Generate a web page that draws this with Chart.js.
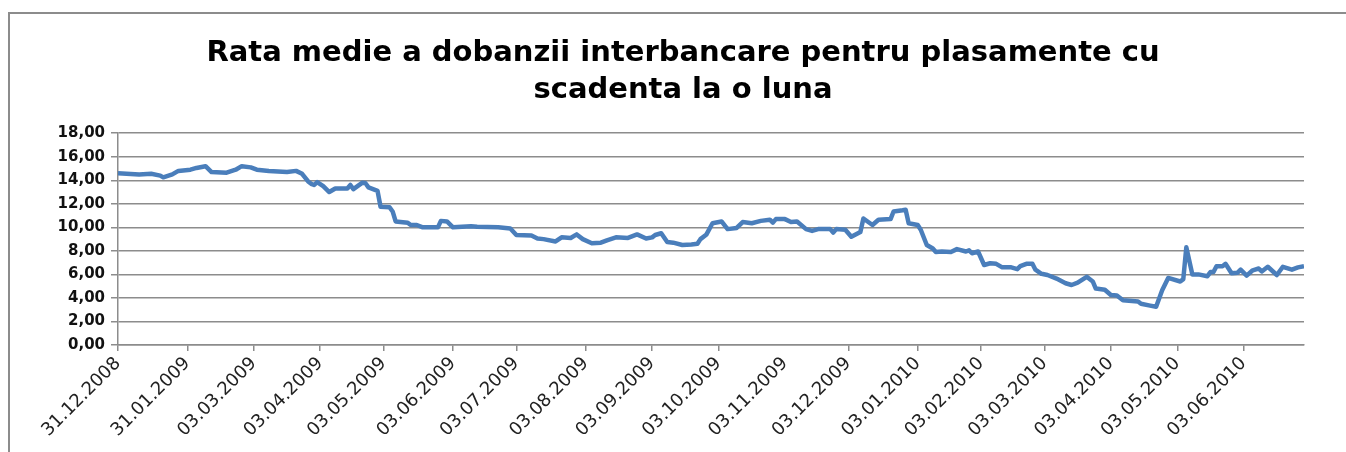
<!DOCTYPE html>
<html>
<head>
<meta charset="utf-8">
<script src="https://cdn.jsdelivr.net/npm/chart.js@4.4.1/dist/chart.umd.min.js"></script>
<style>
  html, body { margin:0; padding:0; background:#fff; overflow:hidden; }
  #frame { position:absolute; left:8px; top:12px; width:1400px; height:500px;
           border-left:2px solid #8c8c8c; border-top:2px solid #8c8c8c; }
  #wrap { position:absolute; left:0; top:0; width:1346px; height:452px; }
</style>
</head>
<body>
<div id="frame"></div>
<div id="wrap"><canvas id="chart"></canvas></div>
<script>
// trading day index (0 = 31.12.2008) and average 1-month interbank rate
const days = [
  0, 7, 11, 14, 15, 18, 20, 24, 26, 29,
  31, 36, 39, 41, 44, 46, 50, 56, 59, 61,
  63, 64, 65, 66, 68, 70, 72, 76, 77, 78,
  81, 82, 83, 86, 87, 90, 91, 92, 96, 97,
  99, 101, 106, 107, 109, 111, 117, 119, 126, 130,
  132, 137, 139, 141, 145, 147, 150, 152, 154, 157,
  160, 162, 165, 169, 172, 175, 177, 178, 180, 182,
  184, 187, 190, 192, 193, 195, 197, 200, 202, 205,
  207, 210, 213, 216, 217, 218, 221, 223, 225, 228,
  230, 232, 236, 237, 238, 241, 243, 246, 247, 250,
  252, 256, 257, 260, 261, 262, 265, 266, 268, 270,
  271, 273, 276, 278, 281, 282, 283, 285, 287, 289,
  291, 293, 296, 298, 299, 301, 303, 304, 306, 308,
  311, 314, 316, 318, 321, 323, 324, 327, 329, 331,
  333, 338, 339, 342, 344, 346, 348, 352, 353, 354,
  356, 358, 361, 362, 363, 364, 366, 367, 369, 371,
  372, 374, 376, 378, 379, 381, 384, 386, 389, 391,
  393
];
const rates = [
  14.6, 14.5, 14.55, 14.4, 14.25, 14.5, 14.8, 14.9, 15.05, 15.2,
  14.7, 14.65, 14.9, 15.2, 15.1, 14.9, 14.8, 14.7, 14.8, 14.55,
  13.9, 13.7, 13.6, 13.85, 13.5, 13.0, 13.3, 13.3, 13.6, 13.25,
  13.8, 13.75, 13.4, 13.1, 11.75, 11.7, 11.35, 10.5, 10.4, 10.2,
  10.2, 10.0, 10.0, 10.55, 10.5, 10.0, 10.1, 10.05, 10.0, 9.9,
  9.35, 9.3, 9.05, 9.0, 8.8, 9.15, 9.1, 9.4, 9.0, 8.65,
  8.7, 8.9, 9.15, 9.1, 9.4, 9.05, 9.15, 9.35, 9.5, 8.75,
  8.7, 8.5, 8.55, 8.6, 9.0, 9.4, 10.35, 10.5, 9.85, 9.95,
  10.45, 10.35, 10.55, 10.65, 10.4, 10.7, 10.7, 10.45, 10.5, 9.85,
  9.7, 9.85, 9.85, 9.55, 9.85, 9.8, 9.2, 9.6, 10.75, 10.2,
  10.65, 10.7, 11.35, 11.45, 11.5, 10.35, 10.2, 9.8, 8.5, 8.2,
  7.9, 7.95, 7.9, 8.15, 7.95, 8.05, 7.8, 7.95, 6.8, 6.95,
  6.9, 6.6, 6.6, 6.45, 6.7, 6.9, 6.9, 6.4, 6.05, 5.95,
  5.65, 5.25, 5.1, 5.3, 5.8, 5.4, 4.8, 4.7, 4.25, 4.2,
  3.8, 3.7, 3.5, 3.35, 3.25, 4.65, 5.7, 5.4, 5.6, 8.3,
  6.0, 6.0, 5.85, 6.2, 6.2, 6.7, 6.7, 6.9, 6.1, 6.15,
  6.4, 5.9, 6.35, 6.5, 6.25, 6.65, 5.95, 6.65, 6.4, 6.6,
  6.7
];

// axis labels
const tickDays = [0, 23, 45, 67, 88, 111, 132, 155, 177, 199, 221, 242, 265, 286, 307, 329, 351, 373];
const tickLabels = ['31.12.2008','31.01.2009','03.03.2009','03.04.2009','03.05.2009','03.06.2009',
  '03.07.2009','03.08.2009','03.09.2009','03.10.2009','03.11.2009','03.12.2009','03.01.2010',
  '03.02.2010','03.03.2010','03.04.2010','03.05.2010','03.06.2010'];
const lastDay = 393;

const titleLines = ['Rata medie a dobanzii interbancare pentru plasamente cu', 'scadenta la o luna'];

const points = days.map((d, i) => ({ x: d, y: rates[i] }));

new Chart(document.getElementById('chart'), {
  type: 'line',
  data: {
    datasets: [{
      data: points,
      borderColor: '#4a7ebb',
      borderWidth: 4.5,
      borderJoinStyle: 'round',
      pointRadius: 0,
      tension: 0
    }]
  },
  options: {
    responsive: true,
    maintainAspectRatio: false,
    animation: false,
    // title is centred on the frame, plot area stops short of the right edge
    layout: { padding: { left: 20, right: 0, top: 0, bottom: 0 } },
    plugins: {
      legend: { display: false },
      tooltip: { enabled: false },
      title: {
        display: true,
        text: titleLines,
        color: '#000',
        font: { family: 'DejaVu Sans', size: 29, weight: 'bold', lineHeight: 1.28 },
        padding: { top: 35, bottom: 24 }
      }
    },
    scales: {
      x: {
        type: 'linear',
        min: 0,
        max: lastDay,
        afterBuildTicks: scale => { scale.ticks = tickDays.map(v => ({ value: v })); },
        afterFit: scale => { scale.height = 107; scale.paddingRight = 42; },
        border: { display: true, color: '#8c8c8c', width: 1.5 },
        grid: {
          drawOnChartArea: false,
          drawTicks: true,
          tickLength: 6,
          tickColor: ctx => (ctx.tick && ctx.tick.value === 221) ? 'rgba(0,0,0,0)' : '#8c8c8c',
          lineWidth: 1.5
        },
        ticks: {
          autoSkip: false,
          minRotation: 45,
          maxRotation: 45,
          padding: 2,
          color: '#222',
          font: { family: 'DejaVu Sans', size: 18 },
          callback: v => tickLabels[tickDays.indexOf(v)]
        }
      },
      y: {
        min: 0,
        max: 18,
        afterFit: scale => { scale.width = 98; },
        border: { display: true, color: '#8c8c8c', width: 1.5 },
        grid: { color: '#8c8c8c', lineWidth: 1.5, tickLength: 7 },
        ticks: {
          stepSize: 2,
          padding: 6,
          color: '#111',
          font: { family: 'DejaVu Sans', size: 15, weight: 'bold' },
          callback: v => v.toFixed(2).replace('.', ',')
        }
      }
    }
  }
});
</script>
</body>
</html>
